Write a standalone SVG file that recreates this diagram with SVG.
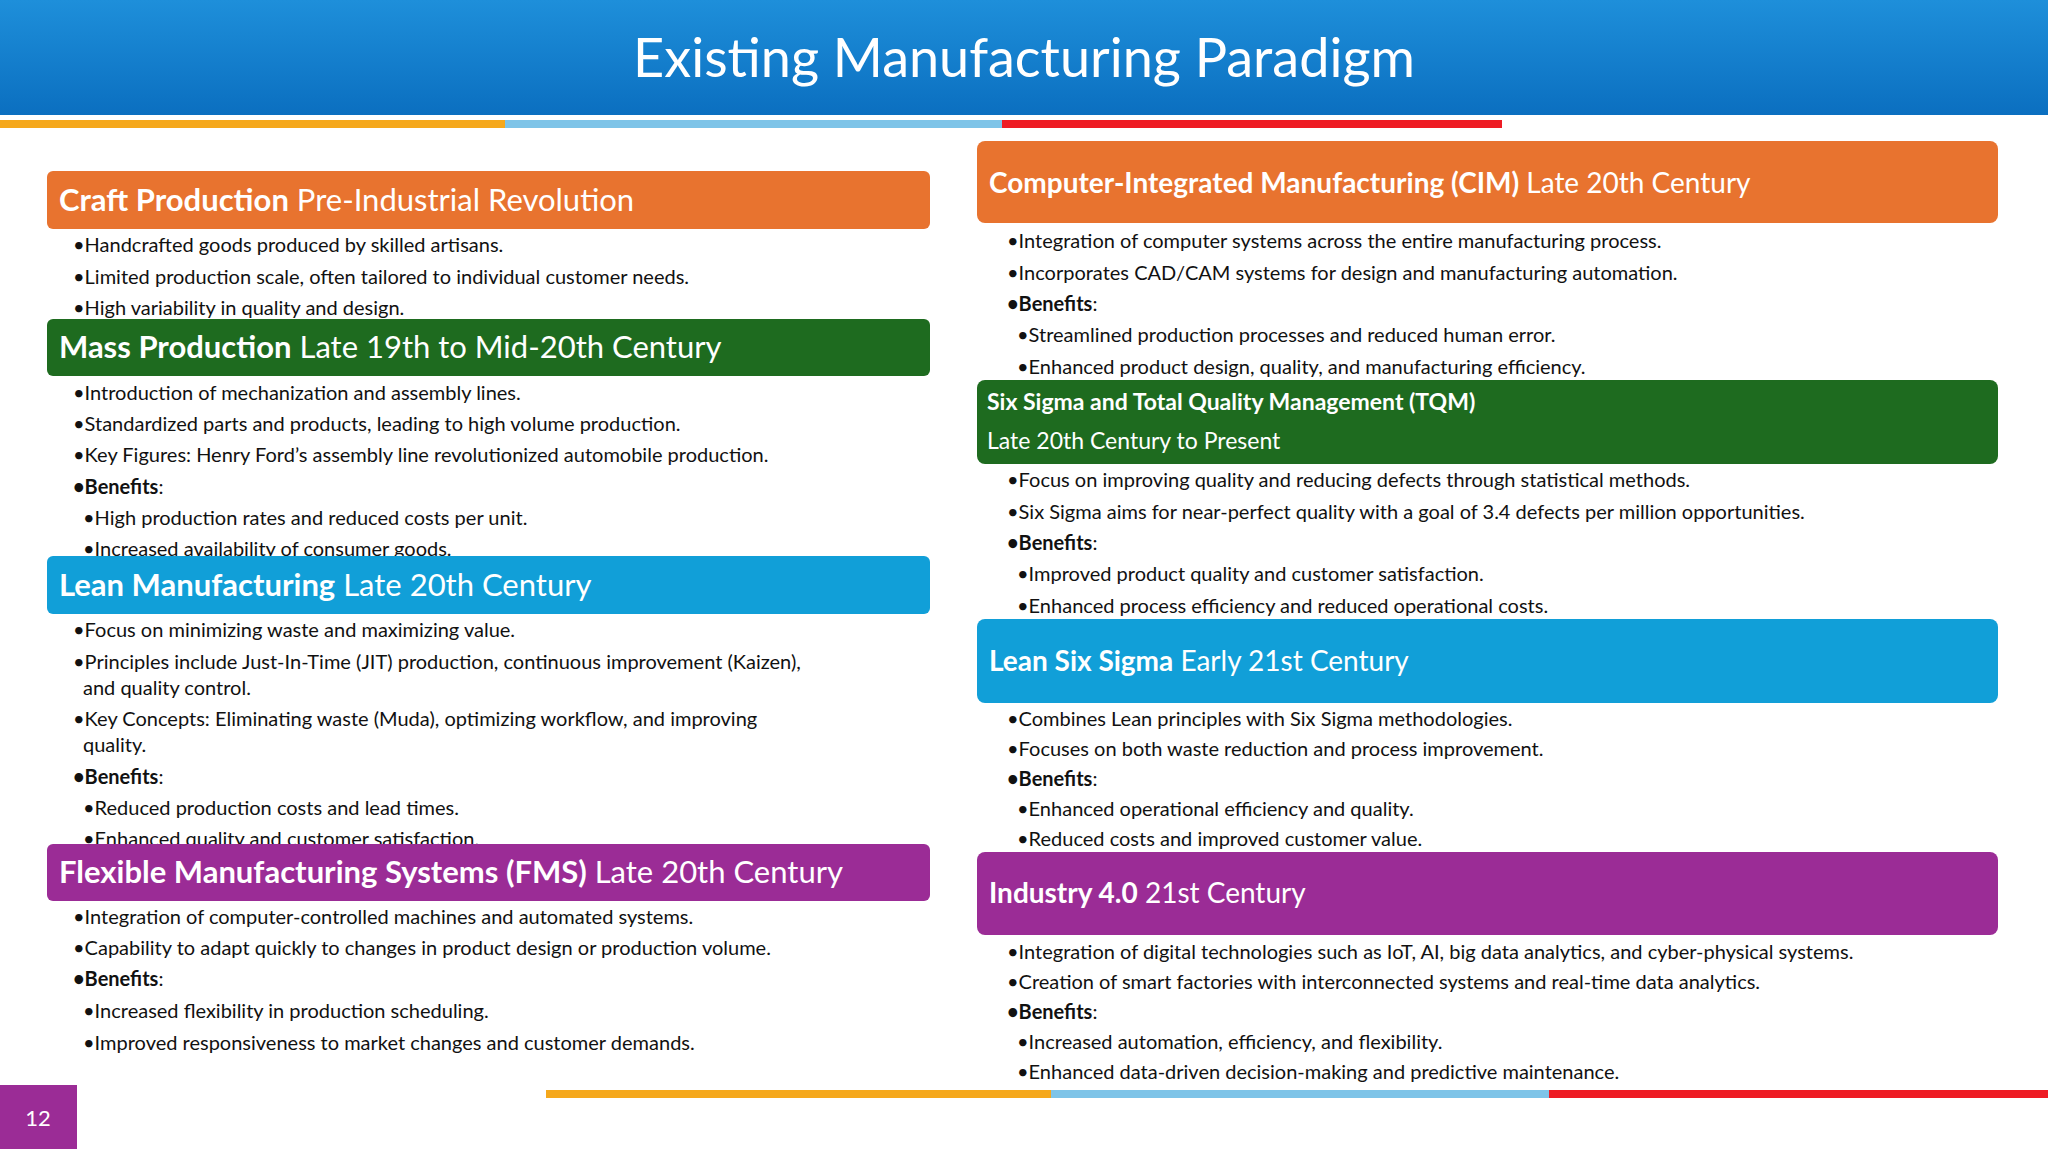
<svg xmlns="http://www.w3.org/2000/svg" width="2048" height="1152" viewBox="0 0 2048 1152">
<defs>
<linearGradient id="hg" x1="0" y1="0" x2="0" y2="1"><stop offset="0" stop-color="#1E8FDA"/><stop offset="1" stop-color="#0B6FC0"/></linearGradient>
<style>
text{font-family:Lato,"Noto Sans",sans-serif;dominant-baseline:central}
.b{font-size:20px;fill:#111}
.h{font-size:31px;fill:#fff}
.h2{font-size:28px;fill:#fff}
.s{font-size:23px;fill:#fff}
</style>
</defs>
<rect width="2048" height="1152" fill="#fff"/>
<rect width="2048" height="115" fill="url(#hg)"/>
<text x="1024" y="56" text-anchor="middle" style="font-size:54px;fill:#fff">Existing Manufacturing Paradigm</text>
<rect x="0" y="120" width="505" height="8" fill="#F5A81C"/>
<rect x="505" y="120" width="497" height="8" fill="#7EC4E8"/>
<rect x="1002" y="120" width="500" height="8" fill="#EE1C24"/>
<rect x="546" y="1090" width="505" height="8" fill="#F5A81C"/>
<rect x="1051" y="1090" width="498" height="8" fill="#7EC4E8"/>
<rect x="1549" y="1090" width="499" height="8" fill="#EE1C24"/>
<g id="page"><rect x="0" y="1085" width="77" height="64" fill="#9B2C96"/><text x="38" y="1117" text-anchor="middle" style="font-size:22px;fill:#fff">12</text></g>

<g id="craft">
<text class="b" x="73" y="244">•Handcrafted goods produced by skilled artisans.</text>
<text class="b" x="73" y="276">•Limited production scale, often tailored to individual customer needs.</text>
<text class="b" x="73" y="307">•High variability in quality and design.</text>
<rect x="47" y="171" width="883" height="58" rx="6" fill="#E8732F"/>
<text class="h" x="59" y="199"><tspan font-weight="bold">Craft Production</tspan> Pre-Industrial Revolution</text>
</g>
<g id="mass">
<text class="b" x="73" y="392">•Introduction of mechanization and assembly lines.</text>
<text class="b" x="73" y="423">•Standardized parts and products, leading to high volume production.</text>
<text class="b" x="73" y="454">•Key Figures: Henry Ford’s assembly line revolutionized automobile production.</text>
<text class="b" x="73" y="486"><tspan font-weight="bold">•Benefits</tspan>:</text>
<text class="b" x="83" y="517">•High production rates and reduced costs per unit.</text>
<text class="b" x="83" y="548">•Increased availability of consumer goods.</text>
<rect x="47" y="319" width="883" height="57" rx="6" fill="#1E6B1F"/>
<text class="h" x="59" y="346"><tspan font-weight="bold">Mass Production</tspan> Late 19th to Mid-20th Century</text>
</g>
<g id="lean">
<text class="b" x="73" y="629">•Focus on minimizing waste and maximizing value.</text>
<text class="b" x="73" y="661">•Principles include Just-In-Time (JIT) production, continuous improvement (Kaizen),</text>
<text class="b" x="83" y="687">and quality control.</text>
<text class="b" x="73" y="718">•Key Concepts: Eliminating waste (Muda), optimizing workflow, and improving</text>
<text class="b" x="83" y="744">quality.</text>
<text class="b" x="73" y="776"><tspan font-weight="bold">•Benefits</tspan>:</text>
<text class="b" x="83" y="807">•Reduced production costs and lead times.</text>
<text class="b" x="83" y="838">•Enhanced quality and customer satisfaction.</text>
<rect x="47" y="556" width="883" height="58" rx="6" fill="#119FD8"/>
<text class="h" x="59" y="584"><tspan font-weight="bold">Lean Manufacturing</tspan> Late 20th Century</text>
</g>
<g id="fms">
<rect x="47" y="844" width="883" height="57" rx="6" fill="#9B2C96"/>
<text class="h" x="59" y="871"><tspan font-weight="bold">Flexible Manufacturing Systems (FMS)</tspan> Late 20th Century</text>
<text class="b" x="73" y="916">•Integration of computer-controlled machines and automated systems.</text>
<text class="b" x="73" y="947">•Capability to adapt quickly to changes in product design or production volume.</text>
<text class="b" x="73" y="978"><tspan font-weight="bold">•Benefits</tspan>:</text>
<text class="b" x="83" y="1010">•Increased flexibility in production scheduling.</text>
<text class="b" x="83" y="1042">•Improved responsiveness to market changes and customer demands.</text>
</g>

<g id="cim">
<text class="b" x="1007" y="240">•Integration of computer systems across the entire manufacturing process.</text>
<text class="b" x="1007" y="272">•Incorporates CAD/CAM systems for design and manufacturing automation.</text>
<text class="b" x="1007" y="303"><tspan font-weight="bold">•Benefits</tspan>:</text>
<text class="b" x="1017" y="334">•Streamlined production processes and reduced human error.</text>
<text class="b" x="1017" y="366">•Enhanced product design, quality, and manufacturing efficiency.</text>
<rect x="977" y="141" width="1021" height="82" rx="8" fill="#E8732F"/>
<text class="h2" x="989" y="182"><tspan font-weight="bold">Computer-Integrated Manufacturing (CIM)</tspan> Late 20th Century</text>
</g>
<g id="sixsigma">
<text class="b" x="1007" y="479">•Focus on improving quality and reducing defects through statistical methods.</text>
<text class="b" x="1007" y="511">•Six Sigma aims for near-perfect quality with a goal of 3.4 defects per million opportunities.</text>
<text class="b" x="1007" y="542"><tspan font-weight="bold">•Benefits</tspan>:</text>
<text class="b" x="1017" y="573">•Improved product quality and customer satisfaction.</text>
<text class="b" x="1017" y="605">•Enhanced process efficiency and reduced operational costs.</text>
<rect x="977" y="380" width="1021" height="84" rx="8" fill="#1E6B1F"/>
<text class="s" x="987" y="401" font-weight="bold">Six Sigma and Total Quality Management (TQM)</text>
<text class="s" x="987" y="440">Late 20th Century to Present</text>
</g>
<g id="leansix">
<rect x="977" y="619" width="1021" height="84" rx="8" fill="#119FD8"/>
<text class="h2" x="989" y="660"><tspan font-weight="bold">Lean Six Sigma</tspan> Early 21st Century</text>
<text class="b" x="1007" y="718">•Combines Lean principles with Six Sigma methodologies.</text>
<text class="b" x="1007" y="748">•Focuses on both waste reduction and process improvement.</text>
<text class="b" x="1007" y="778"><tspan font-weight="bold">•Benefits</tspan>:</text>
<text class="b" x="1017" y="808">•Enhanced operational efficiency and quality.</text>
<text class="b" x="1017" y="838">•Reduced costs and improved customer value.</text>
</g>
<g id="industry4">
<rect x="977" y="852" width="1021" height="83" rx="8" fill="#9B2C96"/>
<text class="h2" x="989" y="892"><tspan font-weight="bold">Industry 4.0</tspan> 21st Century</text>
<text class="b" x="1007" y="951">•Integration of digital technologies such as IoT, AI, big data analytics, and cyber-physical systems.</text>
<text class="b" x="1007" y="981">•Creation of smart factories with interconnected systems and real-time data analytics.</text>
<text class="b" x="1007" y="1011"><tspan font-weight="bold">•Benefits</tspan>:</text>
<text class="b" x="1017" y="1041">•Increased automation, efficiency, and flexibility.</text>
<text class="b" x="1017" y="1071">•Enhanced data-driven decision-making and predictive maintenance.</text>
</g>
<g id="connectors"/>
</svg>
